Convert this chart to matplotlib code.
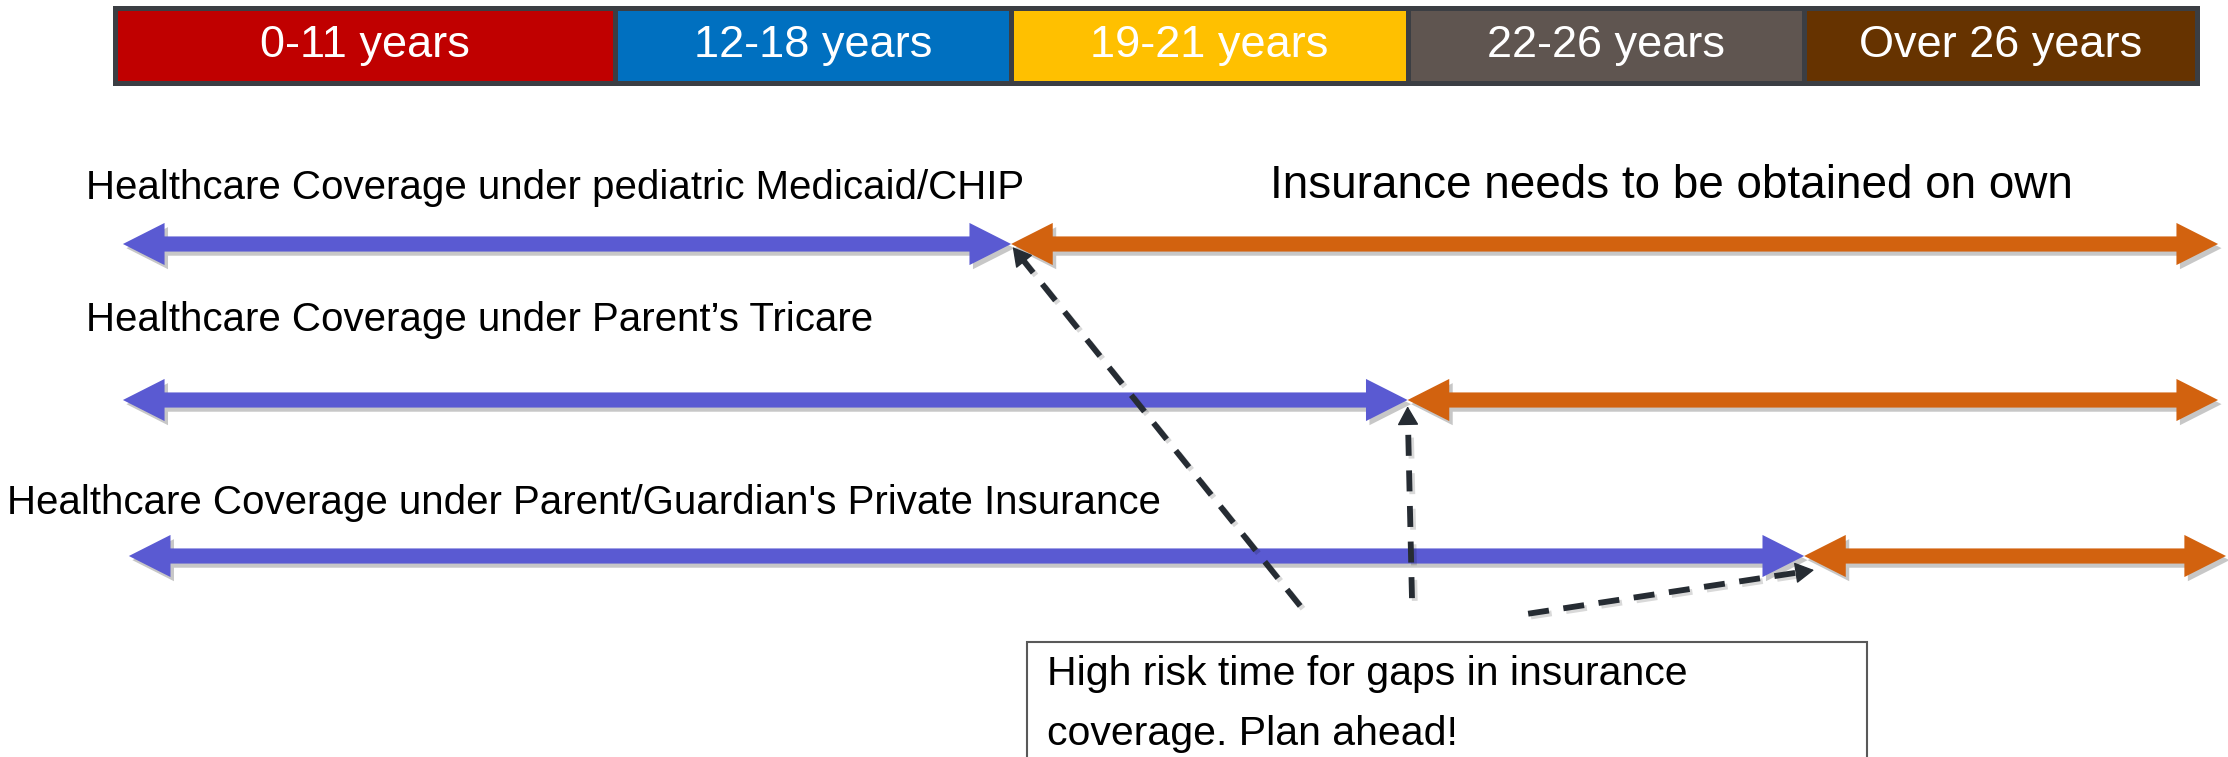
import matplotlib
matplotlib.use("Agg")
import matplotlib.pyplot as plt
import matplotlib.patheffects as pe
import numpy as np
from matplotlib.patches import Polygon, Rectangle

# ---- content ----
age_bands = ["0-11 years", "12-18 years", "19-21 years", "22-26 years", "Over 26 years"]
band_colors = ["#C00000", "#0070C0", "#FFC000", "#5F5550", "#663300"]

coverage_labels = [
    "Healthcare Coverage under pediatric Medicaid/CHIP",
    "Healthcare Coverage under Parent\u2019s Tricare",
    "Healthcare Coverage under Parent/Guardian's Private Insurance",
]
# number of age bands each coverage lasts (ends at 18, 21, 26)
coverage_end_band = [2, 3, 4]

own_label = "Insurance needs to be obtained on own"
callout_lines = ["High risk time for gaps in insurance", "coverage. Plan ahead!"]

# ---- layout (band units across, row units down) ----
band_span = [1.26, 1, 1, 1, 0.99]
edges = np.concatenate([[0], np.cumsum(band_span)])
arrow_left = [0.02, 0.02, 0.035]
arrow_right = [5.304, 5.304, 5.324]
label_x = [-0.073, -0.073, -0.272]
label_dy = [-0.36, -0.51, -0.34]
callout_tail = [(2.989, 3.32), (3.271, 3.27), (3.564, 3.37)]
callout_tip_offset = [(0.004, 0.02), (0.0, 0.04), (0.025, 0.09)]

PURPLE = "#5A5AD2"
ORANGE = "#D2620F"
DARK = "#262C33"
SANS = ["Liberation Sans", "DejaVu Sans"]

fig = plt.figure(figsize=(22.28, 7.57), dpi=100)
ax = fig.add_axes([0, 0, 1, 1])
ax.set_xlim(-0.29, 5.329)
ax.set_ylim(1 + 513 / 156, 1 - 244 / 156)
ax.axis("off")

# header strip of age bands
head_top, head_h = 1 - 236.5 / 156, 75 / 156
for i, (name, col) in enumerate(zip(age_bands, band_colors)):
    ax.add_patch(Rectangle((edges[i], head_top), band_span[i], head_h,
                           facecolor=col, edgecolor="#3B3E43", lw=3.6, zorder=2))
    ax.text(edges[i] + band_span[i] / 2, head_top + head_h / 2, name,
            color="white", fontsize=32.5, ha="center", va="center",
            family=SANS, zorder=3)


def double_arrow(x0, x1, y, color, w=0.097, hw=0.27, hl=0.105):
    pts = [(x0, y), (x0 + hl, y - hw / 2), (x0 + hl, y - w / 2),
           (x1 - hl, y - w / 2), (x1 - hl, y - hw / 2), (x1, y),
           (x1 - hl, y + hw / 2), (x1 - hl, y + w / 2),
           (x0 + hl, y + w / 2), (x0 + hl, y + hw / 2)]
    p = Polygon(pts, closed=True, facecolor=color, edgecolor="none", zorder=4)
    p.set_path_effects([pe.SimplePatchShadow(offset=(2.5, -3), shadow_rgbFace="k", alpha=0.22),
                        pe.Normal()])
    ax.add_patch(p)


for r, (lab, end) in enumerate(zip(coverage_labels, coverage_end_band)):
    y = r + 1
    junction = edges[end]
    double_arrow(arrow_left[r], junction, y, PURPLE)
    double_arrow(junction, arrow_right[r], y, ORANGE)
    ax.text(label_x[r], y + label_dy[r], lab, fontsize=29, ha="left", va="center",
            family=SANS, color="black")

ax.text(2.913, 0.63, own_label, fontsize=33, ha="left", va="center", family=SANS)

# dashed callout arrows pointing at where each coverage stops
to_px = ax.transData
from_px = ax.transData.inverted()
for r, end in enumerate(coverage_end_band):
    tip = np.array([edges[end] + callout_tip_offset[r][0], r + 1 + callout_tip_offset[r][1]])
    tail = np.array(callout_tail[r])
    p0, p1 = to_px.transform(tail), to_px.transform(tip)
    d = (p1 - p0) / np.hypot(*(p1 - p0))
    line_end = from_px.transform(p1 - d * 12)
    head_start = from_px.transform(p1 - d * 14)
    ax.plot([tail[0], line_end[0]], [tail[1], line_end[1]], color=DARK, lw=4.2,
            linestyle=(0, (3.6, 2.5)), solid_capstyle="butt", zorder=5,
            path_effects=[pe.SimpleLineShadow(offset=(2, -2), alpha=0.15), pe.Normal()])
    ax.annotate("", xy=tip, xytext=head_start,
                arrowprops=dict(arrowstyle="-|>,head_length=0.8,head_width=0.45",
                                mutation_scale=15, color=DARK, lw=1,
                                shrinkA=0, shrinkB=0), zorder=6)

# callout box
ax.add_patch(Rectangle((2.300, 1 + 398 / 156), 2.119, 1.2, facecolor="white",
                       edgecolor="#595959", lw=1.5, zorder=3))
for k, line in enumerate(callout_lines):
    ax.text(2.351, 1 + (430 + 60 * k) / 156, line, fontsize=29.5, ha="left",
            va="center", family=SANS, zorder=4)

fig.savefig("out.png", dpi=100)
